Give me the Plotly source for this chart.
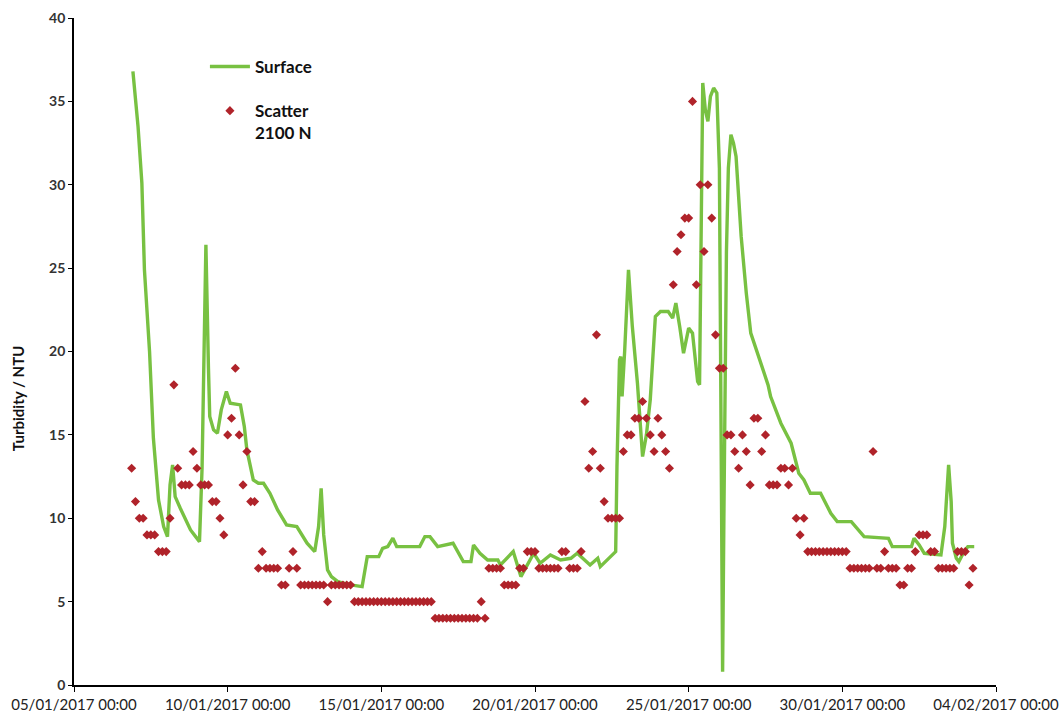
import pandas as pd
import plotly.graph_objects as go

# Surface sensor turbidity (continuous trace)
surface_time = [
    "2017-01-06 22:00", "2017-01-07 02:00", "2017-01-07 05:00", "2017-01-07 07:00",
    "2017-01-07 11:00", "2017-01-07 14:00", "2017-01-07 18:00", "2017-01-07 22:00",
    "2017-01-08 01:00", "2017-01-08 03:00", "2017-01-08 05:00", "2017-01-08 07:00",
    "2017-01-08 11:00", "2017-01-08 19:00", "2017-01-08 23:00", "2017-01-09 02:00",
    "2017-01-09 04:00", "2017-01-09 06:00", "2017-01-09 07:00", "2017-01-09 09:00",
    "2017-01-09 10:00", "2017-01-09 13:00", "2017-01-09 16:00", "2017-01-09 19:00",
    "2017-01-09 23:00", "2017-01-10 02:00", "2017-01-10 10:00", "2017-01-10 13:00",
    "2017-01-10 15:00", "2017-01-10 20:00", "2017-01-11 00:00", "2017-01-11 04:00",
    "2017-01-11 09:00", "2017-01-11 15:00", "2017-01-11 22:00", "2017-01-12 06:00",
    "2017-01-12 14:00", "2017-01-12 20:00", "2017-01-12 23:00", "2017-01-13 01:00",
    "2017-01-13 03:00", "2017-01-13 06:00", "2017-01-13 09:00", "2017-01-13 14:00",
    "2017-01-14 00:00", "2017-01-14 09:00", "2017-01-14 13:00", "2017-01-14 22:00",
    "2017-01-15 01:00", "2017-01-15 05:00", "2017-01-15 09:00", "2017-01-15 12:00",
    "2017-01-16 06:00", "2017-01-16 10:00", "2017-01-16 14:00", "2017-01-16 20:00",
    "2017-01-17 08:00", "2017-01-17 16:00", "2017-01-17 22:00", "2017-01-18 00:00",
    "2017-01-18 05:00", "2017-01-18 11:00", "2017-01-18 19:00", "2017-01-18 21:00",
    "2017-01-19 01:00", "2017-01-19 07:00", "2017-01-19 13:00", "2017-01-19 18:00",
    "2017-01-19 23:00", "2017-01-20 04:00", "2017-01-20 12:00", "2017-01-20 20:00",
    "2017-01-21 04:00", "2017-01-21 09:00", "2017-01-21 19:00", "2017-01-22 01:00",
    "2017-01-22 03:00", "2017-01-22 11:00", "2017-01-22 15:00", "2017-01-22 16:00",
    "2017-01-22 18:00", "2017-01-22 19:00", "2017-01-22 20:00", "2017-01-22 22:00",
    "2017-01-22 23:30", "2017-01-23 01:00", "2017-01-23 04:00", "2017-01-23 08:00",
    "2017-01-23 12:00", "2017-01-23 15:00", "2017-01-23 18:00", "2017-01-23 21:00",
    "2017-01-23 22:00", "2017-01-24 02:00", "2017-01-24 08:00", "2017-01-24 11:30",
    "2017-01-24 14:00", "2017-01-24 17:00", "2017-01-24 20:00", "2017-01-25 00:00",
    "2017-01-25 03:00", "2017-01-25 07:00", "2017-01-25 08:30", "2017-01-25 11:00",
    "2017-01-25 13:00", "2017-01-25 15:00", "2017-01-25 17:00", "2017-01-25 19:30",
    "2017-01-25 22:00", "2017-01-26 00:00", "2017-01-26 01:30", "2017-01-26 02:30",
    "2017-01-26 03:30", "2017-01-26 05:30", "2017-01-26 07:00", "2017-01-26 09:00",
    "2017-01-26 11:00", "2017-01-26 13:00", "2017-01-26 17:00", "2017-01-26 21:00",
    "2017-01-27 00:30", "2017-01-27 04:00", "2017-01-27 08:00", "2017-01-27 14:00",
    "2017-01-27 16:00", "2017-01-28 00:00", "2017-01-28 08:00", "2017-01-28 14:00",
    "2017-01-28 18:00", "2017-01-28 23:00", "2017-01-29 07:00", "2017-01-29 15:00",
    "2017-01-29 20:00", "2017-01-30 07:00", "2017-01-30 17:00", "2017-01-31 12:00",
    "2017-01-31 15:00", "2017-02-01 06:00", "2017-02-01 08:00", "2017-02-01 12:00",
    "2017-02-01 16:00", "2017-02-02 05:00", "2017-02-02 08:00", "2017-02-02 10:00",
    "2017-02-02 11:00", "2017-02-02 13:00", "2017-02-02 14:00", "2017-02-02 17:00",
    "2017-02-02 19:00", "2017-02-02 23:00", "2017-02-03 02:00", "2017-02-03 07:00",
]
surface_ntu = [
    36.8, 33.5, 30.1, 24.9, 20.0, 14.8, 11.1, 9.5,
    8.9, 12.0, 13.2, 11.3, 10.6, 9.3, 8.9, 8.6,
    13.0, 22.0, 26.4, 19.0, 16.1, 15.3, 15.1, 16.5,
    17.6, 16.9, 16.8, 15.5, 14.1, 12.3, 12.1, 12.1,
    11.5, 10.5, 9.6, 9.5, 8.5, 8.0, 9.5, 11.8,
    9.0, 6.9, 6.5, 6.2, 6.0, 5.9, 7.7, 7.7,
    8.2, 8.3, 8.8, 8.3, 8.3, 8.9, 8.9, 8.3,
    8.5, 7.4, 7.4, 8.4, 7.9, 7.5, 7.5, 7.2,
    7.5, 8.0, 6.5, 7.2, 7.9, 7.3, 7.8, 7.5,
    7.6, 7.9, 7.2, 7.6, 7.1, 7.7, 8.0, 13.1,
    19.5, 19.7, 17.3, 20.0, 23.0, 24.9, 21.5, 18.1,
    13.7, 15.0, 17.1, 20.5, 22.1, 22.4, 22.4, 22.0,
    22.9, 21.5, 19.9, 21.4, 21.1, 18.2, 18.0, 36.1,
    34.5, 33.8, 35.3, 35.8, 35.5, 31.0, 12.0, 0.8,
    10.0, 26.0, 31.0, 33.0, 32.5, 31.7, 26.9, 23.5,
    21.1, 20.3, 19.4, 18.0, 17.3, 15.7, 14.5, 12.7,
    12.3, 11.5, 11.5, 10.3, 9.8, 9.8, 8.9, 8.8,
    8.3, 8.3, 8.8, 8.4, 7.9, 7.8, 9.5, 12.0,
    13.2, 11.0, 8.5, 7.6, 7.4, 8.0, 8.3, 8.3,
]

# Scatter 2100 N bench readings, taken every 3 hours from 06/01 21:00
scatter_start = "2017-01-06 21:00"
scatter_ntu = [
    13,                              # 06/01 21:00
    11, 10, 10, 9, 9, 9, 8, 8,       # 07/01
    8, 10, 18, 13, 12, 12, 12, 14,   # 08/01
    13, 12, 12, 12, 11, 11, 10, 9,   # 09/01
    15, 16, 19, 15, 12, 14, 11, 11,  # 10/01
    7, 8, 7, 7, 7, 7, 6, 6,          # 11/01
    7, 8, 7, 6, 6, 6, 6, 6,          # 12/01
    6, 6, 5, 6, 6, 6, 6, 6,          # 13/01
    6, 5, 5, 5, 5, 5, 5, 5,          # 14/01
    5, 5, 5, 5, 5, 5, 5, 5,          # 15/01
    5, 5, 5, 5, 5, 5, 4, 4,          # 16/01
    4, 4, 4, 4, 4, 4, 4, 4,          # 17/01
    4, 4, 5, 4, 7, 7, 7, 7,          # 18/01
    6, 6, 6, 6, 7, 7, 8, 8,          # 19/01
    8, 7, 7, 7, 7, 7, 7, 8,          # 20/01
    8, 7, 7, 7, 8, 17, 13, 14,       # 21/01
    21, 13, 11, 10, 10, 10, 10, 14,  # 22/01
    15, 15, 16, 16, 17, 16, 15, 14,  # 23/01
    16, 15, 14, 13, 24, 26, 27, 28,  # 24/01
    28, 35, 24, 30, 26, 30, 28, 21,  # 25/01
    19, 19, 15, 15, 14, 13, 15, 14,  # 26/01
    12, 16, 16, 14, 15, 12, 12, 12,  # 27/01
    13, 13, 12, 13, 10, 9, 10, 8,    # 28/01
    8, 8, 8, 8, 8, 8, 8, 8,          # 29/01
    8, 8, 7, 7, 7, 7, 7, 7,          # 30/01
    14, 7, 7, 8, 7, 7, 7, 6,         # 31/01
    6, 7, 7, 8, 9, 9, 9, 8,          # 01/02
    8, 7, 7, 7, 7, 7, 8, 8,          # 02/02
    8, 6, 7,                         # 03/02
]
scatter_time = pd.date_range(scatter_start, periods=len(scatter_ntu), freq="3h")

x_start, x_end = "2017-01-05 00:00", "2017-02-04 00:00"
y_ticks = [0, 5, 10, 15, 20, 25, 30, 35, 40]

FONT = "Lato, 'Open Sans', sans-serif"
GREEN = "#78c142"
RED = "#b0232a"

fig = go.Figure()
fig.add_trace(go.Scatter(
    x=pd.to_datetime(surface_time), y=surface_ntu, mode="lines", name="Surface",
    line=dict(color=GREEN, width=3.4), legendgroup="a",
))
fig.add_trace(go.Scatter(
    x=scatter_time, y=scatter_ntu, mode="markers", name="Scatter<br>2100 N",
    marker=dict(symbol="diamond", size=7, color=RED, line=dict(width=0)),
    legendgroup="b",
))

fig.update_layout(
    width=1062, height=713,
    margin=dict(l=74, r=66, t=18, b=28),
    paper_bgcolor="white", plot_bgcolor="white",
    font=dict(family=FONT, color="#222"),
    showlegend=True,
    legend=dict(
        x=0.142, y=0.9535, xanchor="left", yanchor="top",
        font=dict(family=FONT, size=17, color="#111", weight="bold"),
        bgcolor="rgba(0,0,0,0)", tracegroupgap=19, valign="top",
        itemwidth=40,
    ),
    xaxis=dict(
        type="date", range=[x_start, x_end], automargin=False,
        tick0=x_start, dtick=5 * 86400000, tickformat="%d/%m/%Y %H:%M",
        tickangle=0, ticks="outside", ticklen=5, tickcolor="#000",
        showline=True, linecolor="#000", linewidth=1.8,
        showgrid=False, zeroline=False,
        tickfont=dict(family=FONT, size=15, color="#222"),
    ),
    yaxis=dict(
        range=[0, 40], tickvals=y_ticks, automargin=False,
        ticks="outside", ticklen=4, tickcolor="#000",
        showline=True, linecolor="#000", linewidth=1.8,
        showgrid=False, zeroline=False,
        tickfont=dict(family=FONT, size=14, color="#333", weight="bold"),
    ),
    annotations=[dict(
        text="Turbidity / NTU", textangle=-90,
        xref="paper", yref="paper", x=-0.0608, y=0.43,
        xanchor="center", yanchor="middle", showarrow=False,
        font=dict(family=FONT, size=15, color="#111", weight="bold"),
    )],
)

fig.write_html("out.html")
